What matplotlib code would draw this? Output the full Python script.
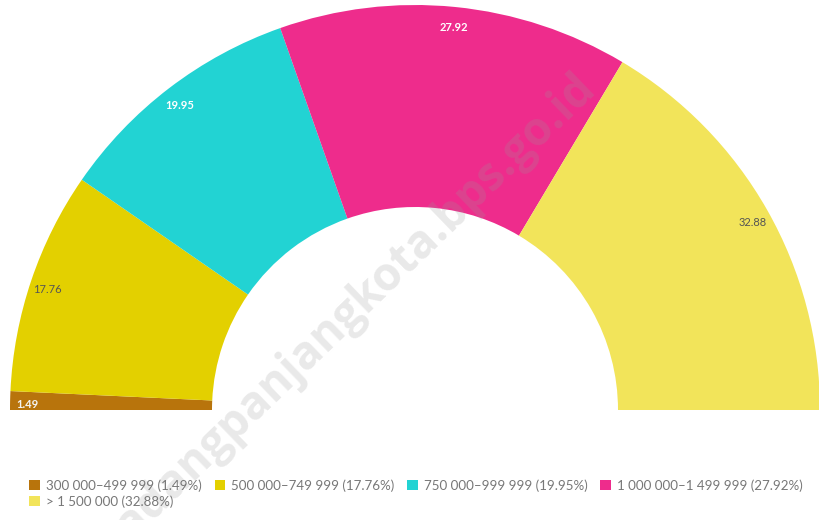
import numpy as np
import matplotlib.pyplot as plt
from matplotlib.patches import Wedge, Patch

plt.rcParams['font.family'] = ['Lato', 'DejaVu Sans']

# -- data --
categories = ['300 000\u2013499 999', '500 000\u2013749 999', '750 000\u2013999 999',
              '1 000 000\u20131 499 999', '> 1 500 000']
values = [1.49, 17.76, 19.95, 27.92, 32.88]
colors = ['#b8740c', '#e3d000', '#22d3d3', '#ee2c8c', '#f2e45a']
label_colors = ['#f4f4f4', '#555555', '#ffffff', '#ffffff', '#555555']

fig = plt.figure(figsize=(8.19, 5.2), dpi=100)
ax = fig.add_axes([0, 0, 1, 1])
ax.set_xlim(0, 819)
ax.set_ylim(0, 520)
ax.axis('off')

# half donut, drawn clockwise from the left
cx, cy = 415, 110
r_out, r_in = 405, 203
total = sum(values)

angle = 180.0
for v, c, lc in zip(values, colors, label_colors):
    span = 180.0 * v / total
    ax.add_patch(Wedge((cx, cy), r_out, angle - span, angle,
                       width=r_out - r_in, facecolor=c, edgecolor='none'))
    mid = np.deg2rad(angle - span / 2)
    rr = 388
    ax.text(cx + rr * np.cos(mid), cy + rr * np.sin(mid) - 4, f'{v:.2f}',
            ha='center', va='center', fontsize=8, color=lc,
            fontweight='bold' if lc.startswith('#f') else 'normal')
    angle -= span

# watermark
ax.text(345, 205, 'padangpanjangkota.bps.go.id', rotation=44, ha='center',
        va='center', fontsize=33, fontweight='bold', color='#999999',
        alpha=0.22, family='Open Sans', clip_on=True)

# legend: 4 columns, last item wraps under the first
handles = [Patch(facecolor=c, edgecolor='none') for c in colors]
texts = [f'{n} ({v:.2f}%)' for n, v in zip(categories, values)]
order = [0, 4, 1, 2, 3]
leg = fig.legend([handles[i] for i in order], [texts[i] for i in order],
                 ncol=4, loc='upper left', bbox_to_anchor=(0.036, 0.078),
                 frameon=False, fontsize=9.6, handlelength=0.8,
                 handleheight=0.8, handletextpad=0.45, columnspacing=0.95,
                 labelspacing=0.25, borderpad=0, borderaxespad=0)
for t in leg.get_texts():
    t.set_color('#777777')

fig.savefig('out.png', dpi=100)
